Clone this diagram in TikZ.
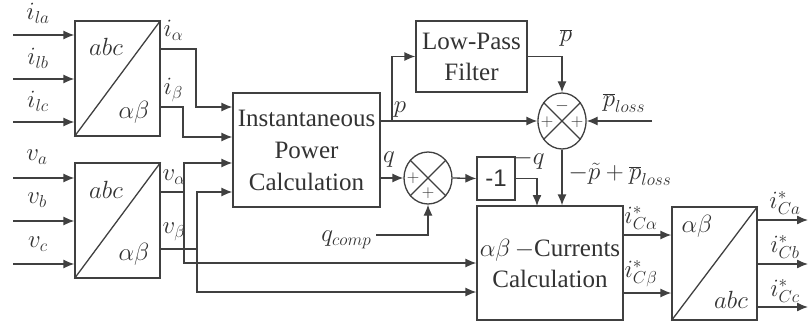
\documentclass[tikz,border=0pt]{standalone}
\usepackage{fontspec}
\setmainfont{Liberation Serif}
\newfontfamily\sansf{Liberation Sans}
\usetikzlibrary{arrows.meta,shapes.geometric,calc}
\begin{document}
\begin{tikzpicture}[x=1pt,y=-1pt,
  font=\fontsize{24}{30}\selectfont,
  line width=1.3pt,
  every node/.style={text=black!80},
  ln/.style={draw=black!75},
  arr/.style={draw=black!75,-{Latex[length=11pt,width=9pt]}},
  blk/.style={draw=black!75,inner sep=0pt},
  sumn/.style={ellipse,draw=black!75,inner sep=0pt,minimum width=48pt},
  sgn/.style={font=\fontsize{17}{17}\selectfont,inner sep=0pt},
  lbl/.style={inner sep=0pt},
]
\useasboundingbox (0,0) rectangle (810,323);
\fill[white] (0,0) rectangle (810,323);

% ---------- blocks ----------
\node[blk,minimum width=85pt,minimum height=115pt] (b1) at (117.5,78.5) {};
\draw[ln] (b1.south west) -- (b1.north east);
\node[lbl] at (106,47) {$abc$};
\node[lbl] at (134,112) {$\alpha\beta$};

\node[blk,minimum width=85pt,minimum height=115pt] (b2) at (117.5,220.5) {};
\draw[ln] (b2.south west) -- (b2.north east);
\node[lbl] at (106,190) {$abc$};
\node[lbl] at (134,254) {$\alpha\beta$};

\node[blk,minimum width=147pt,minimum height=114pt,align=center,
      font=\fontsize{25}{32}\selectfont] (ipc) at (306.5,150) {Instantaneous\\Power\\Calculation};

\node[blk,minimum width=111pt,minimum height=71pt,align=center,
      font=\fontsize{25}{31}\selectfont] (lpf) at (471.5,56.5) {Low-Pass\\Filter};

\node[sumn,minimum height=56pt] (s1) at (562,121) {};
\draw[ln] (s1.45) -- (s1.225) (s1.135) -- (s1.315);
\node[sgn] at (562,106) {$-$};
\node[sgn] at (547,122) {$+$};
\node[sgn] at (577,122) {$+$};

\node[sumn,minimum height=52pt] (s2) at (428,178) {};
\draw[ln] (s2.45) -- (s2.225) (s2.135) -- (s2.315);
\node[sgn] at (413,178) {$+$};
\node[sgn] at (428,193) {$+$};

\node[blk,minimum width=38pt,minimum height=43pt,font=\sansf\fontsize{24}{24}\selectfont] (m1) at (496,178.5) {-1};

\node[blk,minimum width=146pt,minimum height=114pt,align=center,
      font=\fontsize{25}{31}\selectfont] (cc) at (550,263) {$\alpha\beta\,-$Currents\\Calculation};

\node[blk,minimum width=85pt,minimum height=113pt] (b3) at (714.5,263.5) {};
\draw[ln] (b3.south west) -- (b3.north east);
\node[lbl] at (697,226) {$\alpha\beta$};
\node[lbl] at (731,300) {$abc$};

% ---------- inputs ----------
\foreach \y/\n in {35/1,79/2,122/3}{
  \coordinate (ii\n) at (13,\y);
  \draw[arr] (ii\n) -- (ii\n -| b1.west);
}
\node[lbl] at (38,13) {$i_{la}$};
\node[lbl] at (38,58) {$i_{lb}$};
\node[lbl] at (38,101) {$i_{lc}$};

\foreach \y/\n in {178/1,221/2,264/3}{
  \coordinate (vv\n) at (13,\y);
  \draw[arr] (vv\n) -- (vv\n -| b2.west);
}
\node[lbl] at (37,157) {$v_{a}$};
\node[lbl] at (37,200) {$v_{b}$};
\node[lbl] at (38,244) {$v_{c}$};

% ---------- connections ----------
\draw[arr] (b1.east |- 0,49) -- (196,49) |- (ipc.west |- 0,107);
\draw[arr] (b1.east |- 0,107) -- (183,107) |- (ipc.west |- 0,137);
\node[lbl,anchor=west] at (163,30) {$i_{\alpha}$};
\node[lbl,anchor=west] at (163,90) {$i_{\beta}$};

\draw[arr] (b2.east |- 0,192) -- (184,192) |- (ipc.west |- 0,163);
\draw[arr] (184,192) |- (cc.west |- 0,263);
\draw[arr] (b2.east |- 0,249) -- (197,249) |- (ipc.west |- 0,192);
\draw[arr] (197,249) |- (cc.west |- 0,292);
\node[lbl,anchor=west] at (162,177) {$v_{\alpha}$};
\node[lbl,anchor=west] at (162,232) {$v_{\beta}$};

\draw[arr] (ipc.east |- s1.west) -- (s1.west);
\draw[arr] (392,121) |- (lpf.west);
\node[lbl] at (400,110) {$p$};

\draw[arr] (lpf.east) -| (s1.north);
\node[lbl] at (566,38) {$\overline{p}$};

\coordinate (ploss) at (652,121);
\draw[arr] (ploss) -- (s1.east);
\node[lbl] at (624,103) {$\overline{p}_{loss}$};

\draw[arr] (s1.south) -- (s1.south |- cc.north);
\node[lbl,anchor=west] at (568,174) {$-\tilde{p}+\overline{p}_{loss}$};

\draw[arr] (ipc.east |- s2.west) -- (s2.west);
\node[lbl] at (389,160) {$q$};

\coordinate (qc) at (376,235);
\draw[arr] (qc) -| (s2.south);
\node[lbl,anchor=east] at (372,240) {$q_{comp}$};

\draw[arr] (s2.east) -- (m1.west);
\draw[arr] (m1.east) -- (537,178.5) -- (537,206);
\node[lbl] at (529,160) {$-q$};

\draw[arr] (cc.east |- 0,235) -- (b3.west |- 0,235);
\draw[arr] (cc.east |- 0,293) -- (b3.west |- 0,293);
\node[lbl] at (641,218) {$i^{*}_{C\alpha}$};
\node[lbl] at (641,274) {$i^{*}_{C\beta}$};

\foreach \y/\n in {220/1,264/2,307/3}{
  \coordinate (oo\n) at (808,\y);
  \draw[arr] (b3.east |- oo\n) -- (oo\n);
}
\node[lbl] at (785,203) {$i^{*}_{Ca}$};
\node[lbl] at (785,247) {$i^{*}_{Cb}$};
\node[lbl] at (785,291) {$i^{*}_{Cc}$};
\end{tikzpicture}
\end{document}
